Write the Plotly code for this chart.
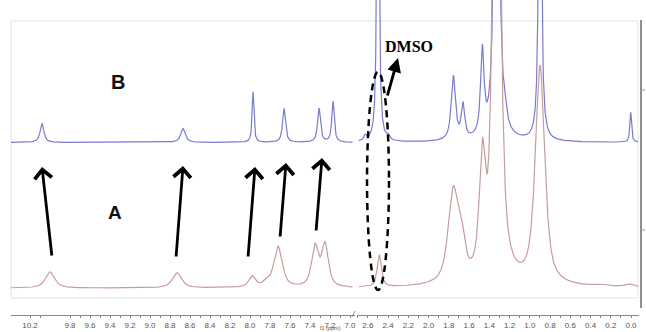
import numpy as np
import plotly.graph_objects as go

# ---------------- data ----------------
# Spectrum B (blue) peaks: position (ppm), height, FWHM (ppm)
b_left_pos = [10.08, 8.67, 7.97, 7.66, 7.31, 7.17]
b_left_hgt = [19, 14, 51, 34, 34, 41]
b_left_fwhm = [0.045, 0.055, 0.022, 0.035, 0.035, 0.030]

b_right_pos = [2.628, 2.50, 2.40, 1.755, 1.660, 1.469, 1.327, 1.245, 0.899, 0.003]
b_right_hgt = [5, 420, 4, 64, 34, 84, 520, 12, 420, 30]
b_right_fwhm = [0.03, 0.024, 0.03, 0.05, 0.04, 0.04, 0.05, 0.04, 0.03, 0.02]

# Spectrum A (red) peaks
a_left_pos = [10.00, 8.73, 7.98, 7.84, 7.72, 7.35, 7.25]
a_left_hgt = [16, 15, 11, 4, 41, 40, 42]
a_left_fwhm = [0.11, 0.11, 0.08, 0.08, 0.10, 0.08, 0.08]

a_right_pos = [2.487, 1.755, 1.672, 1.469, 1.327, 0.899, 0.30, 0.02]
a_right_hgt = [32, 92, 30, 112, 650, 218, 2, 3]
a_right_fwhm = [0.05, 0.12, 0.08, 0.07, 0.08, 0.11, 0.15, 0.10]

baseline_b = 172.5
baseline_a = 27.0

left_ticks = [10.2, 9.8, 9.6, 9.4, 9.2, 9.0, 8.8, 8.6, 8.4, 8.2, 8.0, 7.8, 7.6, 7.4, 7.2, 7.0]
right_ticks = [2.6, 2.4, 2.2, 2.0, 1.8, 1.6, 1.4, 1.2, 1.0, 0.8, 0.6, 0.4, 0.2, 0.0]

# arrows A-peak -> B-peak: (tail ppm, tail y, tip ppm, tip y)
arrow_tail_ppm = [9.98, 8.74, 8.02, 7.70, 7.34]
arrow_tail_y = [58, 57, 57, 77, 83]
arrow_tip_ppm = [10.08, 8.67, 7.95, 7.64, 7.28]
arrow_tip_y = [148, 149, 148, 152, 157]

# ---------------- helpers ----------------
W, H = 646, 332
PLOT_H = 315


def pv(x, pos, hgt, fwhm, eta):
    y = np.zeros_like(x)
    for c, h, w in zip(pos, hgt, fwhm):
        d = (x - c) / w
        lor = 1.0 / (1.0 + (2 * d) ** 2)
        gau = np.exp(-4 * np.log(2) * d ** 2)
        y += h * (eta * lor + (1 - eta) * gau)
    return y


def px(xp):
    return xp / W


def py(yp):
    return (PLOT_H - yp) / PLOT_H


x_left = np.linspace(10.39, 6.975, 2000)
x_right = np.linspace(2.69, -0.074, 2000)

blue = "#7a7ad4"
red = "#c89c9c"

fig = go.Figure()
fig.add_trace(go.Scatter(x=x_left, y=baseline_b + pv(x_left, b_left_pos, b_left_hgt, b_left_fwhm, 0.85),
                         mode="lines", line=dict(color=blue, width=1.2), xaxis="x", yaxis="y", hoverinfo="skip"))
fig.add_trace(go.Scatter(x=x_right, y=baseline_b + pv(x_right, b_right_pos, b_right_hgt, b_right_fwhm, 0.85),
                         mode="lines", line=dict(color=blue, width=1.2), xaxis="x2", yaxis="y", hoverinfo="skip"))
fig.add_trace(go.Scatter(x=x_left, y=baseline_a + pv(x_left, a_left_pos, a_left_hgt, a_left_fwhm, 0.7),
                         mode="lines", line=dict(color=red, width=1.2), xaxis="x", yaxis="y", hoverinfo="skip"))
fig.add_trace(go.Scatter(x=x_right, y=baseline_a + pv(x_right, a_right_pos, a_right_hgt, a_right_fwhm, 0.7),
                         mode="lines", line=dict(color=red, width=1.2), xaxis="x2", yaxis="y", hoverinfo="skip"))

axis_common = dict(showgrid=False, zeroline=False, showline=True, linecolor="#8a8a8a", linewidth=1,
                   ticks="outside", ticklen=2, tickcolor="#8a8a8a", tickwidth=1,
                   tickfont=dict(family="Liberation Sans, Arial", size=8, color="#555555"),
                   fixedrange=True)

fig.update_layout(
    width=W, height=H,
    margin=dict(l=0, r=0, t=0, b=H - PLOT_H),
    paper_bgcolor="white", plot_bgcolor="white",
    showlegend=False,
    xaxis=dict(domain=[px(11), px(355)], range=[10.39, 6.95], tickmode="array",
               tickvals=left_ticks, ticktext=[f"{v:.1f}" for v in left_ticks],
               minor=dict(tickmode="array", tickvals=[round(v - 0.1, 1) for v in left_ticks],
                          ticks="outside", ticklen=2, tickcolor="#8a8a8a"),
               anchor="y", **axis_common),
    xaxis2=dict(domain=[px(356.5), px(638.5)], range=[2.712, -0.074], tickmode="array",
                tickvals=right_ticks, ticktext=[f"{v:.1f}" for v in right_ticks],
                minor=dict(tickmode="array", tickvals=[round(v + 0.1, 1) for v in right_ticks],
                           ticks="outside", ticklen=2, tickcolor="#8a8a8a"),
                anchor="y", **axis_common),
    yaxis=dict(range=[0, PLOT_H], visible=False, fixedrange=True),
)

shapes = [
    # light frame
    dict(type="rect", xref="paper", yref="paper", x0=px(11), x1=px(638), y0=py(298), y1=py(21),
         line=dict(color="#e2e2e2", width=1), layer="below"),
    # right dark axis line and ticks
    dict(type="line", xref="paper", yref="paper", x0=px(641), x1=px(641), y0=py(308), y1=py(20),
         line=dict(color="#6a6a6a", width=1.5)),
    dict(type="line", xref="paper", yref="paper", x0=px(641), x1=px(645), y0=py(90), y1=py(90),
         line=dict(color="#9a9a9a", width=1)),
    dict(type="line", xref="paper", yref="paper", x0=px(641), x1=px(645), y0=py(230), y1=py(230),
         line=dict(color="#9a9a9a", width=1)),
    # axis break mark
    dict(type="line", xref="paper", yref="paper", x0=px(352), x1=px(355), y0=py(317), y1=py(311),
         line=dict(color="#8a8a8a", width=1)),
    # dashed ellipse around DMSO
    dict(type="circle", xref="x2", yref="y", x0=2.608, x1=2.391, y0=25, y1=243,
         line=dict(color="black", width=2.5, dash="7px,5px")),
]
fig.update_layout(shapes=shapes)

annotations = []
for tx, ty, hx, hy in zip(arrow_tail_ppm, arrow_tail_y, arrow_tip_ppm, arrow_tip_y):
    annotations.append(dict(x=hx, y=hy, xref="x", yref="y", ax=tx, ay=ty, axref="x", ayref="y",
                            showarrow=True, arrowhead=4, arrowsize=1.2, arrowwidth=2.8,
                            arrowcolor="black", text=""))
annotations += [
    dict(x=2.302, y=257, xref="x2", yref="y", ax=2.411, ay=218, axref="x2", ayref="y",
         showarrow=True, arrowhead=2, arrowsize=1.0, arrowwidth=2.8, arrowcolor="black", text=""),
    dict(x=2.193, y=269, xref="x2", yref="y", text="<b>DMSO</b>", showarrow=False,
         font=dict(family="Liberation Serif, Times New Roman", size=16, color="black")),
    dict(x=9.32, y=233, xref="x", yref="y", text="<b>B</b>", showarrow=False,
         font=dict(family="Liberation Sans, Arial", size=20, color="#111111")),
    dict(x=9.35, y=103, xref="x", yref="y", text="<b>A</b>", showarrow=False,
         font=dict(family="Liberation Sans, Arial", size=19, color="#111111")),
    dict(x=px(330), y=0, xref="paper", yref="paper", yshift=-(H - PLOT_H), text="f1 (ppm)",
         showarrow=False, xanchor="center", yanchor="bottom", borderpad=0,
         font=dict(family="Liberation Sans, Arial", size=5.5, color="#555555")),
]
fig.update_layout(annotations=annotations)

fig.write_html("out.html")
